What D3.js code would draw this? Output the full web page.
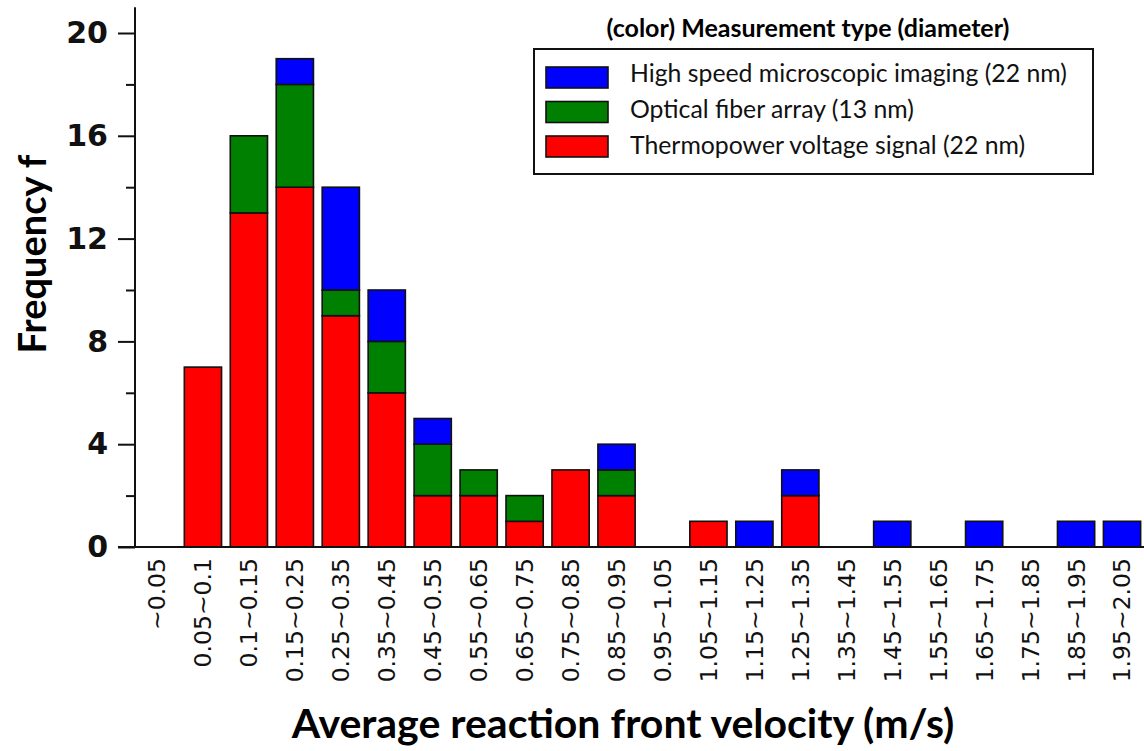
<!DOCTYPE html>
<html>
<head>
<meta charset="utf-8">
<script src="https://cdn.jsdelivr.net/npm/d3@7"></script>
<style>
  body { margin: 0; background: #fff; }
  svg { display: block; }
</style>
</head>
<body>
<div id="chart"></div>
<script>
// bins of velocity (m/s)
var bins = ["~0.05", "0.05~0.1", "0.1~0.15", "0.15~0.25", "0.25~0.35", "0.35~0.45",
  "0.45~0.55", "0.55~0.65", "0.65~0.75", "0.75~0.85", "0.85~0.95", "0.95~1.05",
  "1.05~1.15", "1.15~1.25", "1.25~1.35", "1.35~1.45", "1.45~1.55", "1.55~1.65",
  "1.65~1.75", "1.75~1.85", "1.85~1.95", "1.95~2.05"];

var thermo  = [0, 7, 13, 14, 9, 6, 2, 2, 1, 3, 2, 0, 1, 0, 2, 0, 0, 0, 0, 0, 0, 0];
var optical = [0, 0, 3, 4, 1, 2, 2, 1, 1, 0, 1, 0, 0, 0, 0, 0, 0, 0, 0, 0, 0, 0];
var highspd = [0, 0, 0, 1, 4, 2, 1, 0, 0, 0, 1, 0, 0, 1, 1, 0, 1, 0, 1, 0, 1, 1];

var seriesNames = ["High speed microscopic imaging (22 nm)", "Optical fiber array (13 nm)", "Thermopower voltage signal (22 nm)"];
var seriesColors = ["#0000ff", "#008000", "#ff0000"];
var yTicks = [0, 4, 8, 12, 16, 20];
var yMinor = [2, 6, 10, 14, 18];

var W = 1144, H = 751;
var svg = d3.select("#chart").append("svg").attr("width", W).attr("height", H);

var x = d3.scaleBand().domain(bins).range([134, 1145]).paddingInner(0.19).paddingOuter(0.095);
var y = d3.scaleLinear().domain([0, 21]).range([547, 7.3]);

// stack: red bottom, green, blue on top
var rows = bins.map(function(b, i) {
  return {bin: b, thermo: thermo[i], optical: optical[i], highspd: highspd[i]};
});
var keys = ["thermo", "optical", "highspd"];
var colorOf = {thermo: "#ff0000", optical: "#008000", highspd: "#0000ff"};
var stacked = d3.stack().keys(keys)(rows);

var g = svg.append("g");
stacked.forEach(function(layer) {
  g.selectAll(null)
    .data(layer.filter(function(d) { return d[1] - d[0] > 0; }))
    .enter().append("rect")
    .attr("x", function(d) { return x(d.data.bin); })
    .attr("width", x.bandwidth())
    .attr("y", function(d) { return y(d[1]); })
    .attr("height", function(d) { return y(d[0]) - y(d[1]); })
    .attr("fill", colorOf[layer.key])
    .attr("stroke", "#111")
    .attr("stroke-width", 1.6);
});

// y axis
var yAxis = svg.append("g").attr("transform", "translate(135,0)")
  .call(d3.axisLeft(y).tickValues(yTicks).tickSize(17).tickPadding(10).tickSizeOuter(0));
yAxis.select(".domain").remove();
yAxis.selectAll(".tick line").attr("stroke", "#111").attr("stroke-width", 2);
yAxis.selectAll(".tick text")
  .attr("fill", "#111")
  .style("font-family", "'DejaVu Sans', sans-serif")
  .style("font-weight", "bold")
  .style("font-size", "30px");

svg.append("g").attr("transform", "translate(135,0)")
  .call(d3.axisLeft(y).tickValues(yMinor).tickSize(9).tickFormat(""))
  .call(function(s) {
    s.select(".domain").remove();
    s.selectAll(".tick line").attr("stroke", "#111").attr("stroke-width", 2);
  });

svg.append("line").attr("x1", 135).attr("x2", 135).attr("y1", y(21)).attr("y2", y(0) + 1)
  .attr("stroke", "#111").attr("stroke-width", 2);

// x axis
svg.append("line").attr("x1", 118).attr("x2", W).attr("y1", y(0)).attr("y2", y(0))
  .attr("stroke", "#111").attr("stroke-width", 2);

var xAxis = svg.append("g").attr("transform", "translate(0," + y(0) + ")")
  .call(d3.axisBottom(x).tickSize(0).tickPadding(0));
xAxis.select(".domain").remove();
xAxis.selectAll(".tick text")
  .attr("transform", "rotate(-90)")
  .attr("x", -11)
  .attr("y", 0)
  .attr("dy", "0.36em")
  .attr("text-anchor", "end")
  .attr("fill", "#111")
  .style("font-family", "'DejaVu Sans', sans-serif")
  .style("font-size", "23.5px");

// axis titles
svg.append("text")
  .attr("x", 623).attr("y", 738)
  .attr("text-anchor", "middle")
  .style("font-family", "Lato, sans-serif")
  .style("font-weight", "bold")
  .style("font-size", "41px")
  .text("Average reaction front velocity (m/s)");

svg.append("text")
  .attr("transform", "translate(46,254) rotate(-90)")
  .attr("text-anchor", "middle")
  .style("font-family", "Lato, sans-serif")
  .style("font-weight", "bold")
  .style("font-size", "38px")
  .text("Frequency f");

// legend
var legend = svg.append("g");
legend.append("text")
  .attr("x", 808).attr("y", 37)
  .attr("text-anchor", "middle")
  .style("font-family", "Lato, sans-serif")
  .style("font-weight", "bold")
  .style("font-size", "25px")
  .text("(color) Measurement type (diameter)");

legend.append("rect")
  .attr("x", 534).attr("y", 49).attr("width", 559).attr("height", 125)
  .attr("fill", "#fff").attr("stroke", "#111").attr("stroke-width", 2);

seriesNames.forEach(function(name, i) {
  var cy = 77.5 + i * 34.5;
  legend.append("rect")
    .attr("x", 546).attr("y", cy - 10.5).attr("width", 62).attr("height", 21)
    .attr("fill", seriesColors[i]).attr("stroke", "#111").attr("stroke-width", 1.6);
  legend.append("text")
    .attr("x", 630).attr("y", 82 + i * 36)
    .attr("fill", "#111")
    .style("font-family", "Lato, sans-serif")
    .style("font-size", "24.8px")
    .text(name);
});
</script>
</body>
</html>
